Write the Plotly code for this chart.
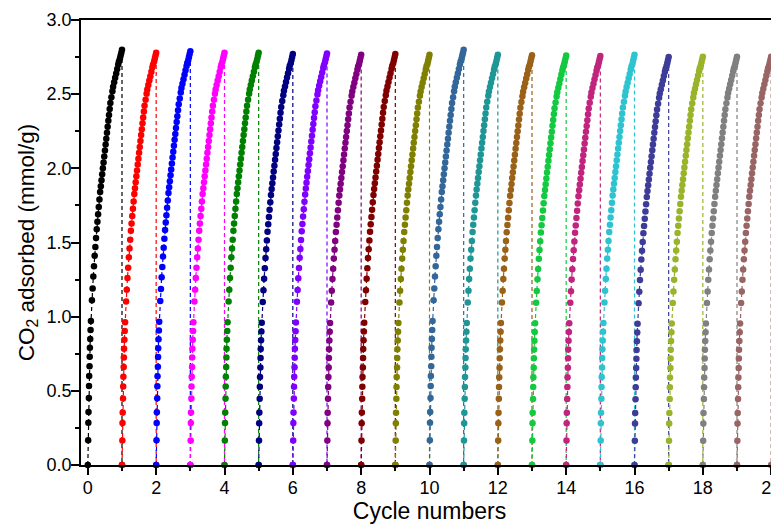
import plotly.graph_objects as go

# Shared shape of one adsorption cycle, read from the first (black) cycle:
# fraction of the cycle elapsed, and CO2 uptake (mmol/g)
profile_t = [0.00, 0.01, 0.015, 0.02, 0.03, 0.035, 0.04, 0.05, 0.055, 0.06, 0.07, 0.08, 0.09,
             0.12, 0.14, 0.16, 0.18, 0.20, 0.22, 0.24, 0.26, 0.28, 0.30, 0.32, 0.34, 0.36,
             0.38, 0.40, 0.42, 0.44, 0.46, 0.48, 0.50, 0.52, 0.54, 0.56, 0.58, 0.60, 0.62,
             0.64, 0.66, 0.69, 0.72, 0.74, 0.77, 0.80, 0.83, 0.86, 0.89, 0.91, 0.94, 0.96,
             0.98, 1.00]
profile_q = [0.00, 0.167, 0.285, 0.357, 0.452, 0.533, 0.60, 0.665, 0.73, 0.79, 0.85, 0.91, 0.97,
             1.11, 1.19, 1.27, 1.34, 1.41, 1.47, 1.53, 1.59, 1.64, 1.69, 1.74, 1.79, 1.84,
             1.88, 1.92, 1.96, 2.00, 2.04, 2.08, 2.12, 2.16, 2.20, 2.24, 2.28, 2.32, 2.36,
             2.40, 2.44, 2.48, 2.52, 2.55, 2.58, 2.61, 2.64, 2.67, 2.70, 2.72, 2.74, 2.76,
             2.78, 2.80]

# Maximum uptake reached in each of the 20 cycles
cycle_max = [2.80, 2.78, 2.79, 2.78, 2.78, 2.77, 2.775, 2.765, 2.77, 2.765,
             2.80, 2.765, 2.763, 2.76, 2.758, 2.765, 2.75, 2.753, 2.753, 2.753]

cycle_colors = ["#000000", "#FF0000", "#0000FF", "#FF00FF", "#008000", "#000080", "#8000FF",
                "#800080", "#800000", "#808000", "#336699", "#1E9696", "#9A6118", "#13C940",
                "#C0247C", "#2EC4CF", "#3D3D99", "#99B32A", "#808080", "#996464"]

x_ticks = [0, 2, 4, 6, 8, 10, 12, 14, 16, 18, 20]
y_ticks = [0.0, 0.5, 1.0, 1.5, 2.0, 2.5, 3.0]

FONT = "Liberation Sans, Arial"

fig = go.Figure()
ref_max = profile_q[-1]
for i, (qmax, col) in enumerate(zip(cycle_max, cycle_colors)):
    xs = [i + t for t in profile_t] + [i + 1]
    ys = [q * qmax / ref_max for q in profile_q] + [0.0]
    fig.add_trace(go.Scatter(
        x=xs, y=ys, mode="lines+markers",
        line=dict(color=col, width=1.2, dash="4px,3px"),
        marker=dict(color=col, size=6.5, line=dict(width=0)),
        cliponaxis=False, showlegend=False,
    ))

axis_common = dict(
    showline=True, linecolor="black", linewidth=1.6, mirror=True,
    ticks="outside", tickcolor="black", tickwidth=1.5, ticklen=8,
    showgrid=False, zeroline=False, automargin=False,
    tickfont=dict(family=FONT, size=18, color="black"),
    ticklabeloverflow="allow",
)

fig.update_xaxes(
    range=[-0.2, 20.2], tickvals=x_ticks, ticktext=[str(v) for v in x_ticks],
    minor=dict(dtick=1, ticks="outside", ticklen=4, tickwidth=1.5, tickcolor="black"),
    title=dict(text="Cycle numbers", font=dict(family=FONT, size=23, color="black"),
               standoff=4),
    ticklabelstandoff=-2,
    **axis_common,
)
fig.update_yaxes(
    range=[0, 3.0], tickvals=y_ticks, ticktext=[f"{v:.1f}" for v in y_ticks],
    minor=dict(dtick=0.25, ticks="outside", ticklen=4, tickwidth=1.5, tickcolor="black"),
    title=dict(text="CO<sub>2</sub> adsorbed (mmol/g)",
               font=dict(family=FONT, size=22.5, color="black"), standoff=6),
    ticklabelstandoff=-4,
    **axis_common,
)

# the page adds an 8px body margin, so the figure is sized to fit inside it
fig.update_layout(
    width=771, height=521,
    margin=dict(l=73, r=1, t=12, b=64),
    paper_bgcolor="white", plot_bgcolor="white",
)

fig.write_html("out.html")
